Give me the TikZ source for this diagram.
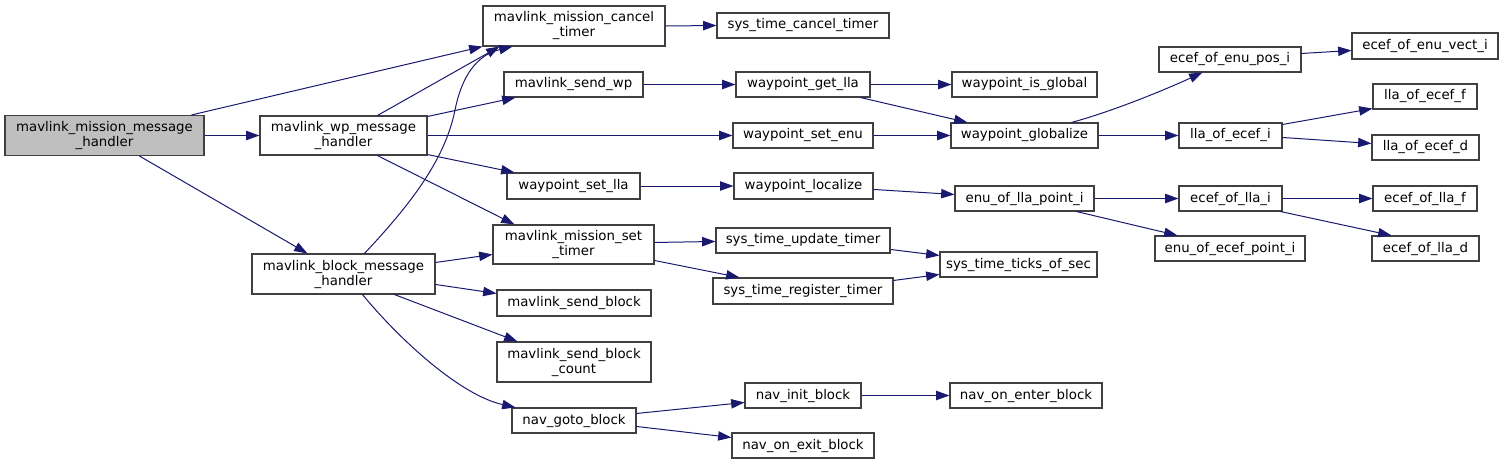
\documentclass[tikz,border=0pt]{standalone}
\usepackage{fontspec}
\setmainfont{DejaVu Sans}
\usetikzlibrary{arrows.meta,calc}
\definecolor{edgeblue}{HTML}{191970}
\definecolor{boxline}{HTML}{404040}
\definecolor{rootfill}{HTML}{BFBFBF}
\tikzset{
  fn/.style={draw=boxline, fill=white, line width=0.8pt, inner sep=0pt, align=center,
    font=\fontsize{10}{11.25}\selectfont},
  rootfn/.style={fill=rootfill},
  call/.style={draw=edgeblue, line width=0.75pt, -{Triangle[length=10pt,width=7pt]}}
}
\newcommand\fnode[7][]{\node[fn,#1,minimum width={(#5-#3)*0.75pt},minimum height={(#6-#4)*0.75pt}] (#2) at ({(#3+#5)/2},{(#4+#6)/2}) {#7};}
\begin{document}
\begin{tikzpicture}[x=0.75pt,y=-0.75pt]
\useasboundingbox (0,0) rectangle (1509,465);
% nodes
\fnode[rootfn]{mmmh}{5}{115.5}{204}{155.5}{mavlink\_mission\_message\\\_handler}
\fnode{mwmh}{260}{116}{427}{155}{mavlink\_wp\_message\\\_handler}
\fnode{mbmh}{252}{254}{435}{294}{mavlink\_block\_message\\\_handler}
\fnode{mct}{483}{6}{665}{46}{mavlink\_mission\_cancel\\\_timer}
\fnode{stct}{717}{13}{889}{38}{sys\_time\_cancel\_timer}
\fnode{mswp}{504}{72}{643}{97}{mavlink\_send\_wp}
\fnode{wgl}{736}{72}{870}{97}{waypoint\_get\_lla}
\fnode{wse}{733}{123}{873}{148}{waypoint\_set\_enu}
\fnode{wsl}{507}{173}{640}{199}{waypoint\_set\_lla}
\fnode{wloc}{734}{173}{873}{199}{waypoint\_localize}
\fnode{wig}{952}{72}{1097}{97}{waypoint\_is\_global}
\fnode{wglob}{951}{123}{1098}{148}{waypoint\_globalize}
\fnode{eollp}{955}{186}{1094}{211}{enu\_of\_lla\_point\_i}
\fnode{eoep}{1159}{47}{1301}{72}{ecef\_of\_enu\_pos\_i}
\fnode{eoev}{1352}{33}{1498}{59}{ecef\_of\_enu\_vect\_i}
\fnode{loef}{1373}{84}{1477}{109}{lla\_of\_ecef\_f}
\fnode{loei}{1179}{123}{1282}{148}{lla\_of\_ecef\_i}
\fnode{loed}{1372}{135}{1479}{160}{lla\_of\_ecef\_d}
\fnode{eoli}{1179}{186}{1282}{211}{ecef\_of\_lla\_i}
\fnode{eolf}{1373}{186}{1477}{211}{ecef\_of\_lla\_f}
\fnode{eoecp}{1155}{236}{1305}{261}{enu\_of\_ecef\_point\_i}
\fnode{eold}{1372}{236}{1479}{261}{ecef\_of\_lla\_d}
\fnode{mmst}{493}{225}{654}{264}{mavlink\_mission\_set\\\_timer}
\fnode{stut}{716}{228}{890}{253}{sys\_time\_update\_timer}
\fnode{strt}{713}{278}{893}{304}{sys\_time\_register\_timer}
\fnode{stts}{940}{252}{1097}{277}{sys\_time\_ticks\_of\_sec}
\fnode{msb}{497}{290}{651}{316}{mavlink\_send\_block}
\fnode{msbc}{497}{342}{651}{382}{mavlink\_send\_block\\\_count}
\fnode{ngb}{512}{408}{636}{433}{nav\_goto\_block}
\fnode{nib}{745}{383}{861}{408}{nav\_init\_block}
\fnode{noeb}{950}{383}{1102}{408}{nav\_on\_enter\_block}
\fnode{noxb}{732}{433}{874}{458}{nav\_on\_exit\_block}
% edges
\draw[call] ($(mmmh.north west)+(187,0)$) -- (mct.south west);
\draw[call] (mmmh.east) -- (mwmh.west);
\draw[call] ($(mmmh.south west)+(135,0)$) -- ($(mbmh.north west)+(56,0)$);
\draw[call] ($(mwmh.north west)+(118,0)$) -- ($(mct.south west)+(17,0)$);
\draw[call] ($(mbmh.north west)+(113,0)$) .. controls (410,205) and (445,160) .. (455,110)
   .. controls (465,60) and (490,52) .. ($(mct.south west)+(30,0)$);
\draw[call] ($(mwmh.north east)+(0,1)$) -- ($(mswp.south west)+(12,0)$);
\draw[call] (mwmh.east) -- (wse.west);
\draw[call] ($(mwmh.south east)+(0,-1)$) -- ($(wsl.north west)+(8,0)$);
\draw[call] ($(mwmh.south west)+(118,0)$) -- ($(mmst.north west)+(22,0)$);
\draw[call] ($(mbmh.north east)+(0,9)$) -- ($(mmst.north west)+(0,30)$);
\draw[call] ($(mbmh.north east)+(0,31)$) -- ($(msb.north west)+(0,4)$);
\draw[call] ($(mbmh.south west)+(143,0)$) -- ($(msbc.north west)+(21,0)$);
\draw[call] ($(mbmh.south west)+(111,0)$) .. controls (400,340) and (460,395) .. ($(ngb.north west)+(4,0)$);
\draw[call] (mct.east) -- (stct.west);
\draw[call] (mswp.east) -- (wgl.west);
\draw[call] (wgl.east) -- (wig.west);
\draw[call] ($(wgl.south east)+(-10,0)$) -- ($(wglob.north west)+(17,0)$);
\draw[call] (wse.east) -- (wglob.west);
\draw[call] (wsl.east) -- (wloc.west);
\draw[call] ($(wloc.north east)+(0,17)$) -- ($(eollp.north west)+(0,9)$);
\draw[call] ($(wglob.north west)+(121,0)$) .. controls (1110,112) and (1160,92) .. ($(eoep.south west)+(44,0)$);
\draw[call] (wglob.east) -- (loei.west);
\draw[call] ($(eoep.north east)+(0,7)$) -- ($(eoev.north west)+(0,18)$);
\draw[call] ($(loei.north east)+(0,2)$) -- ($(loef.south west)+(0,-1)$);
\draw[call] ($(loei.north east)+(0,15)$) -- ($(loed.north west)+(0,9)$);
\draw[call] (eollp.east) -- (eoli.west);
\draw[call] ($(eollp.south west)+(122,0)$) -- ($(eoecp.north west)+(23,0)$);
\draw[call] (eoli.east) -- (eolf.west);
\draw[call] ($(eoli.south east)+(-2,0)$) -- ($(eold.north west)+(20,0)$);
\draw[call] ($(mmst.north east)+(0,18)$) -- ($(stut.north west)+(0,14)$);
\draw[call] ($(mmst.north east)+(0,36)$) -- ($(strt.north west)+(27,0)$);
\draw[call] ($(stut.north east)+(0,22)$) -- ($(stts.north west)+(0,4)$);
\draw[call] ($(strt.north east)+(0,3)$) -- ($(stts.north west)+(0,23)$);
\draw[call] ($(ngb.north east)+(0,6)$) -- ($(nib.north west)+(0,20)$);
\draw[call] ($(ngb.north east)+(0,19)$) -- ($(noxb.north west)+(0,5)$);
\draw[call] (nib.east) -- (noeb.west);
\end{tikzpicture}
\end{document}
